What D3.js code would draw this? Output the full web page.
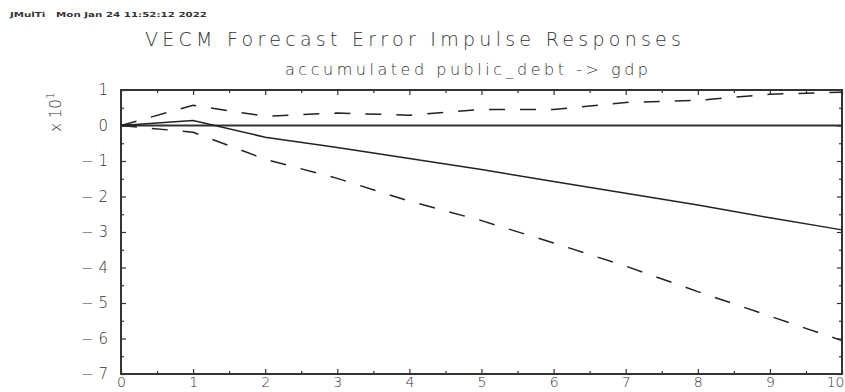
<!DOCTYPE html>
<html>
<head>
<meta charset="utf-8">
<script src="https://cdn.jsdelivr.net/npm/d3@7"></script>
<style>
  html, body { margin: 0; padding: 0; background: #fff; }
  svg { display: block; }
  text { font-family: "DejaVu Sans", sans-serif; fill: #333; }
</style>
</head>
<body>
<svg id="chart" width="845" height="392"></svg>
<script>
// ---- data (values in units of 10^1) ----
const steps = [0, 1, 2, 3, 4, 5, 6, 7, 8, 9, 10];
const response = [0, 0.14, -0.33, -0.62, -0.93, -1.24, -1.58, -1.91, -2.24, -2.60, -2.94];
const upperBand = [0, 0.57, 0.26, 0.35, 0.29, 0.45, 0.45, 0.65, 0.71, 0.88, 0.94];
const lowerBand = [0, -0.19, -0.95, -1.49, -2.13, -2.68, -3.31, -3.96, -4.68, -5.37, -6.06];
const xTicks = [0, 1, 2, 3, 4, 5, 6, 7, 8, 9, 10];
const yTicks = [-7, -6, -5, -4, -3, -2, -1, 0, 1];
const headerText = "JMulTi   Mon Jan 24 11:52:12 2022";
const titleText = "VECM Forecast Error Impulse Responses";
const subtitleText = "accumulated public_debt -> gdp";
const yScaleLabel = "x 10";
const yScaleExp = "1";

const svg = d3.select("#chart");
const W = 845;
const m = { left: 121, right: 842, top: 90, bottom: 374 };

const x = d3.scaleLinear().domain([0, 10]).range([m.left, m.right]);
const y = d3.scaleLinear().domain([-7, 1]).range([m.bottom, m.top]);

const halfX = d3.range(0.5, 10, 1);
const halfY = d3.range(-6.5, 1, 1);

function styleAxis(g) {
  g.select(".domain").remove();
  g.selectAll(".tick line").attr("stroke", "#333").attr("stroke-width", 1.2);
}
const styleLabels = size => g => g.selectAll("text")
  .attr("font-size", size).attr("font-weight", 300)
  .style("font-family", "DejaVu Sans").attr("fill", "#333");
const fmt = d => d < 0 ? "\u2212 " + Math.abs(d) : String(d);

// bottom
const bottomAxis = svg.append("g").attr("transform", `translate(0,${m.bottom})`)
  .call(d3.axisBottom(x).tickValues(xTicks).tickSizeInner(-5).tickSizeOuter(0).tickPadding(3).tickFormat(d => d))
  .call(styleAxis).call(styleLabels(14));
// keep the last label inside the page
bottomAxis.selectAll(".tick text").each(function () {
  const bb = this.getBBox();
  const tx = x(+d3.select(this.parentNode).datum());
  const right = tx + bb.x + bb.width;
  if (right > W - 1) d3.select(this).attr("x", (W - 1) - right);
});
svg.append("g").attr("transform", `translate(0,${m.bottom})`)
  .call(d3.axisBottom(x).tickValues(halfX).tickSizeInner(-3).tickSizeOuter(0).tickFormat(""))
  .call(styleAxis);
// top
svg.append("g").attr("transform", `translate(0,${m.top})`)
  .call(d3.axisTop(x).tickValues(xTicks).tickSizeInner(-5).tickSizeOuter(0).tickFormat(""))
  .call(styleAxis);
svg.append("g").attr("transform", `translate(0,${m.top})`)
  .call(d3.axisTop(x).tickValues(halfX).tickSizeInner(-3).tickSizeOuter(0).tickFormat(""))
  .call(styleAxis);
// left
svg.append("g").attr("transform", `translate(${m.left},0)`)
  .call(d3.axisLeft(y).tickValues(yTicks).tickSizeInner(-5).tickSizeOuter(0).tickPadding(13).tickFormat(fmt))
  .call(styleAxis).call(styleLabels(15));
svg.append("g").attr("transform", `translate(${m.left},0)`)
  .call(d3.axisLeft(y).tickValues(halfY).tickSizeInner(-3).tickSizeOuter(0).tickFormat(""))
  .call(styleAxis);
// right
svg.append("g").attr("transform", `translate(${m.right},0)`)
  .call(d3.axisRight(y).tickValues(yTicks).tickSizeInner(-5).tickSizeOuter(0).tickFormat(""))
  .call(styleAxis);
svg.append("g").attr("transform", `translate(${m.right},0)`)
  .call(d3.axisRight(y).tickValues(halfY).tickSizeInner(-3).tickSizeOuter(0).tickFormat(""))
  .call(styleAxis);

// frame
svg.append("rect")
  .attr("x", x(0)).attr("y", y(1))
  .attr("width", x(10) - x(0)).attr("height", y(-7) - y(1))
  .attr("fill", "none").attr("stroke", "#333").attr("stroke-width", 2);

// zero line
svg.append("line")
  .attr("x1", x(0)).attr("x2", x(10)).attr("y1", y(0)).attr("y2", y(0))
  .attr("stroke", "#333").attr("stroke-width", 2);

const line = d3.line().x((d, i) => x(steps[i])).y(d => y(d));

svg.append("path").datum(response)
  .attr("d", line).attr("fill", "none").attr("stroke", "#222").attr("stroke-width", 1.5);
svg.append("path").datum(upperBand)
  .attr("d", line).attr("fill", "none").attr("stroke", "#222").attr("stroke-width", 1.5)
  .attr("stroke-dasharray", "16,15");
svg.append("path").datum(lowerBand)
  .attr("d", line).attr("fill", "none").attr("stroke", "#222").attr("stroke-width", 1.5)
  .attr("stroke-dasharray", "16,15");

// texts
svg.append("text").attr("x", 10).attr("y", 17)
  .attr("font-size", 7).attr("font-weight", "bold")
  .attr("textLength", 197).attr("lengthAdjust", "spacingAndGlyphs")
  .attr("xml:space", "preserve")
  .text(headerText);

svg.append("text").attr("x", 145).attr("y", 46)
  .attr("font-size", 19).attr("font-weight", 300)
  .attr("textLength", 536).attr("lengthAdjust", "spacing")
  .text(titleText);

svg.append("text").attr("x", 285).attr("y", 75)
  .attr("font-size", 16).attr("font-weight", 300)
  .attr("textLength", 363).attr("lengthAdjust", "spacing")
  .text(subtitleText);

const yl = svg.append("text")
  .attr("transform", "translate(61,112) rotate(-90)")
  .attr("text-anchor", "middle")
  .attr("font-size", 15).attr("font-weight", 300);
yl.append("tspan").text(yScaleLabel);
yl.append("tspan").attr("dy", -7).attr("font-size", 11).text(yScaleExp);
</script>
</body>
</html>
